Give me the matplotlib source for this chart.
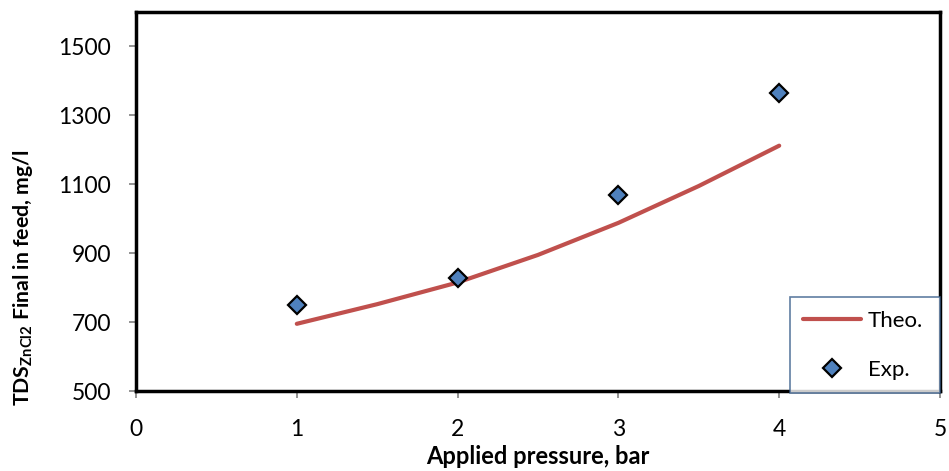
import matplotlib
matplotlib.use('Agg')
import matplotlib.pyplot as plt

# ── Data ────────────────────────────────────────────────────────────────────
theo_p   = [1.0, 1.5, 2.0, 2.5, 3.0, 3.5, 4.0]
theo_tds = [695, 752, 815, 895, 988, 1095, 1212]

exp_p   = [1, 2, 3, 4]
exp_tds = [750, 828, 1070, 1365]

xticks = [0, 1, 2, 3, 4, 5]
yticks = [500, 700, 900, 1100, 1300, 1500]

plt.rcParams['font.family'] = ['Lato', 'DejaVu Sans']
plt.rcParams['mathtext.fontset'] = 'custom'
plt.rcParams['mathtext.rm'] = 'Lato'
plt.rcParams['mathtext.bf'] = 'Lato:bold'
plt.rcParams['mathtext.default'] = 'bf'

# ── Plotting ────────────────────────────────────────────────────────────────
fig = plt.figure(figsize=(9.49, 4.71), dpi=100)
ax = fig.add_axes([136/949, 1 - 391/471, (940-136)/949, (391-12)/471])

ax.plot(theo_p, theo_tds, color='#C0504D', linewidth=3, solid_capstyle='round',
        label='Theo.')
ax.plot(exp_p, exp_tds, linestyle='none', marker='D', markersize=9.5,
        markerfacecolor='#4F81BD', markeredgecolor='black', markeredgewidth=1.6,
        label='Exp.')

ax.set_xlim(0, 5)
ax.set_ylim(500, 1600)
ax.set_xticks(xticks)
ax.set_yticks(yticks)
ax.tick_params(direction='out', length=5, width=1.2, color='#808080',
               labelsize=16.5)
ax.tick_params(axis='x', pad=15)
ax.tick_params(axis='y', pad=13)

for s in ax.spines.values():
    s.set_linewidth(2.5)
    s.set_color('black')

ax.set_xlabel('Applied pressure, bar', fontsize=17, fontweight='bold', labelpad=4)
ax.set_ylabel(r'TDS$_{ZnCl2}$ Final in feed, mg/l', fontsize=15.3,
              fontweight='bold')
# label sits lower than the axes centre in the original
ax.yaxis.set_label_coords(-0.126, 0.30)

leg = fig.legend(loc='lower left',
                 bbox_to_anchor=(790/949, 1 - 393/471, 150/949, 106/471),
                 mode='expand', fontsize=16, frameon=True, fancybox=False,
                 borderpad=0.6, labelspacing=1.3, handlelength=2.6,
                 handletextpad=0.3, borderaxespad=0)
leg.get_frame().set_edgecolor('#385D8A')
leg.get_frame().set_linewidth(1.2)

plt.savefig('out.png', dpi=100)
